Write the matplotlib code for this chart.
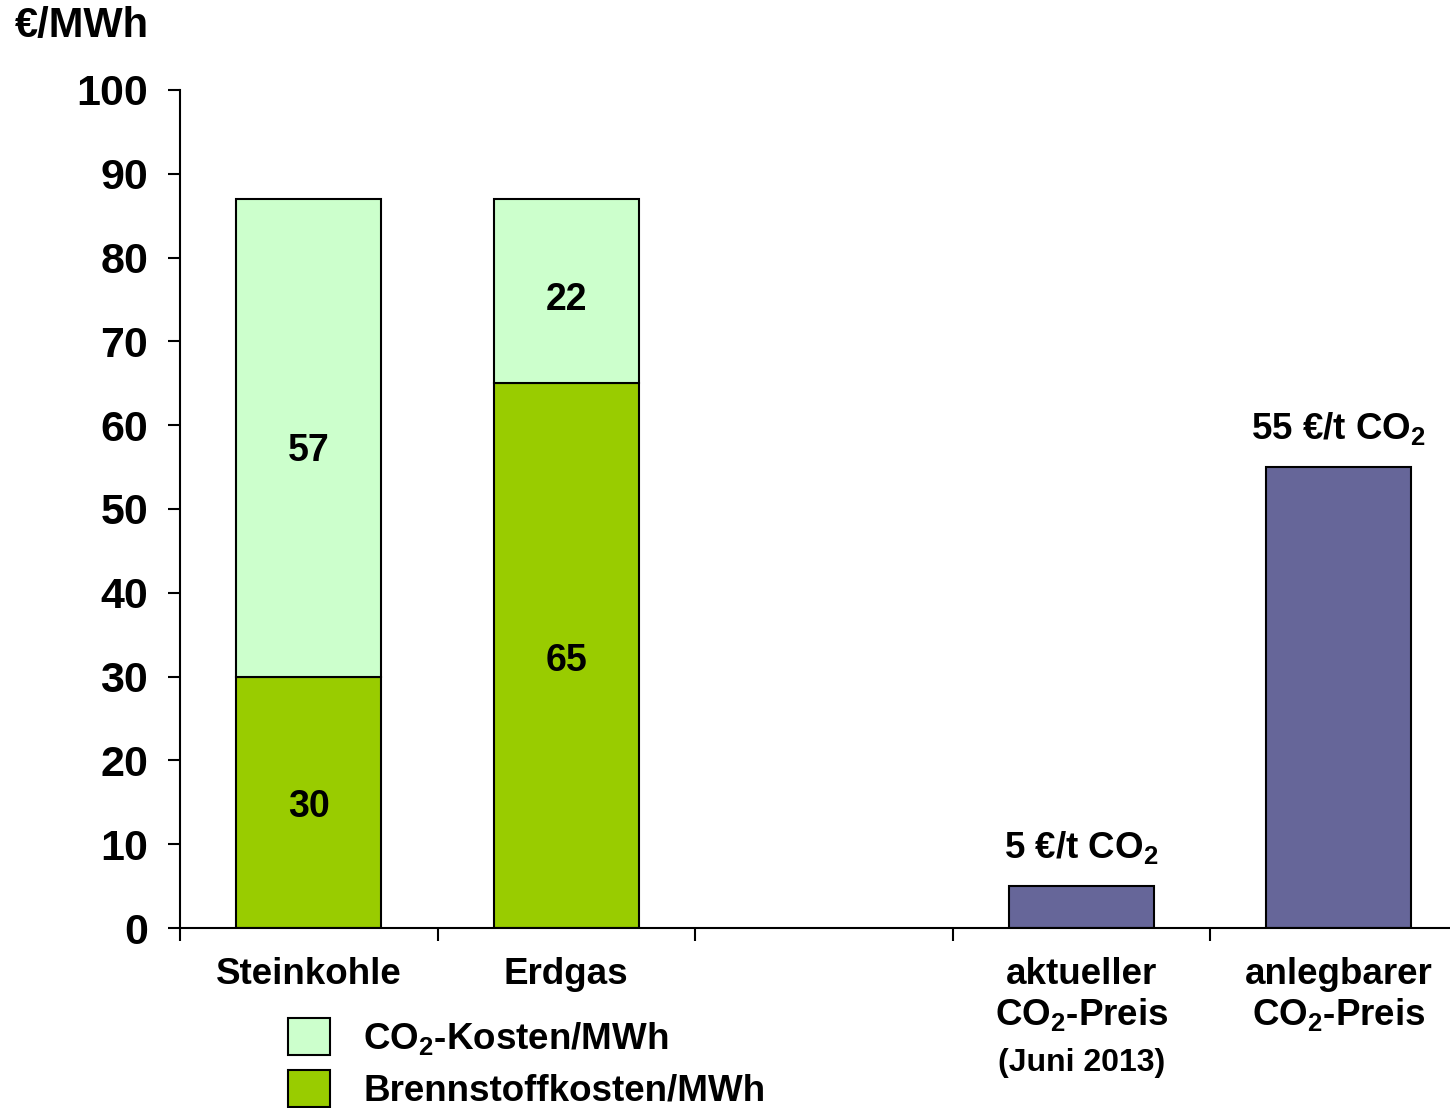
import matplotlib.pyplot as plt
from matplotlib.patches import Patch

# Data
categories = ['Steinkohle', 'Erdgas', '', 'aktueller\nCO$_2$-Preis', 'anlegbarer\nCO$_2$-Preis']
brennstoff = [30, 65]
co2_kosten = [57, 22]
co2_preis = [5, 55]
co2_preis_labels = ['5 €/t CO$_2$', '55 €/t CO$_2$']
yticks = [0, 10, 20, 30, 40, 50, 60, 70, 80, 90, 100]

# Colours
c_light = '#CCFFCC'
c_green = '#99CC00'
c_purple = '#666699'

plt.rcParams['font.family'] = ['Liberation Sans', 'DejaVu Sans']
plt.rcParams['font.weight'] = 'bold'
plt.rcParams['mathtext.fontset'] = 'custom'
plt.rcParams['mathtext.bf'] = 'Liberation Sans:bold'
plt.rcParams['mathtext.rm'] = 'Liberation Sans:bold'
plt.rcParams['mathtext.default'] = 'bf'

fig = plt.figure(figsize=(14.5, 11.08), dpi=100)
ax = fig.add_axes([180 / 1450, 1 - 928 / 1108, 1287.5 / 1450, 838 / 1108])

width = 0.563
fuel_x = [0, 1]
price_x = [3, 4]

ax.bar(fuel_x, brennstoff, width, color=c_green, edgecolor='black', linewidth=1.5)
ax.bar(fuel_x, co2_kosten, width, bottom=brennstoff, color=c_light, edgecolor='black', linewidth=1.5)
ax.bar(price_x, co2_preis, width, color=c_purple, edgecolor='black', linewidth=1.5)

# Labels inside the stacked bars
for x, b, c in zip(fuel_x, brennstoff, co2_kosten):
    ax.text(x, b / 2 - 0.6, str(b), ha='center', va='center', fontsize=27, fontweight='bold')
    ax.text(x, b + c / 2 - (1.6 if c > 40 else 1.1), str(c), ha='center', va='center',
            fontsize=27, fontweight='bold')

# Labels over the price bars
for x, v, lab in zip(price_x, co2_preis, co2_preis_labels):
    ax.text(x, v + 2.4, lab, ha='center', va='bottom', fontsize=26.5, fontweight='bold')

ax.set_xlim(-0.5, 4.5)
ax.set_ylim(0, 100)
ax.set_yticks(yticks)
ax.set_yticklabels([str(t) for t in yticks], fontsize=31, fontweight='bold')
ax.tick_params(axis='y', direction='out', length=9, width=1.5, pad=14)

ax.set_xticks(range(len(categories)))
ax.set_xticklabels(categories, fontsize=26.5, fontweight='bold', va='top')
for lab in ax.get_xticklabels():
    lab.set_linespacing(1.12)
ax.set_xticks([-0.5, 0.5, 1.5, 2.5, 3.5], minor=True)
ax.tick_params(axis='x', which='major', length=0, pad=21)
ax.tick_params(axis='x', which='minor', direction='out', length=9, width=1.5)

ax.text(3, -16.1, '(Juni 2013)', ha='center', va='center', fontsize=23, fontweight='bold')

for s in ['top', 'right']:
    ax.spines[s].set_visible(False)
for s in ['left', 'bottom']:
    ax.spines[s].set_linewidth(1.5)
ax.spines['left'].set_bounds(0, 100)

fig.text(15 / 1450, 1 - 6 / 1108, '€/MWh', ha='left', va='top', fontsize=30, fontweight='bold')

handles = [Patch(facecolor=c_light, edgecolor='black', linewidth=1.5),
           Patch(facecolor=c_green, edgecolor='black', linewidth=1.5)]
fig.legend(handles, ['CO$_2$-Kosten/MWh', 'Brennstoffkosten/MWh'],
           loc='upper left', bbox_to_anchor=(288 / 1450, 1 - 1018 / 1108),
           frameon=False, borderpad=0, borderaxespad=0,
           handlelength=1.15, handleheight=1.15, handletextpad=0.9, labelspacing=0.36,
           prop={'weight': 'bold', 'size': 26.5})

fig.savefig('out.png', dpi=100)
